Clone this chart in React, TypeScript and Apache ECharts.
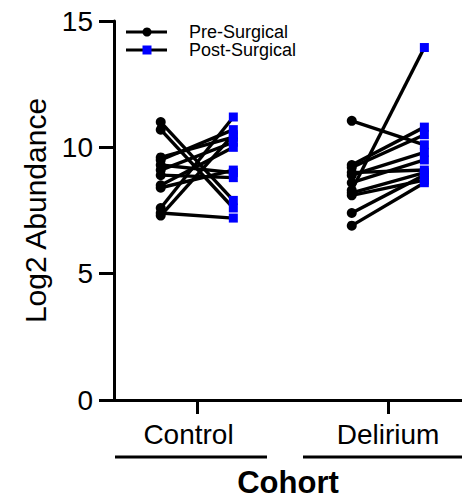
import React, { useEffect, useRef } from "react";
import * as echarts from "echarts";

const categories = ["Control", "Delirium"];
const legendNames = ["Pre-Surgical", "Post-Surgical"];
const controlPre = [11.0, 10.7, 9.6, 9.5, 9.3, 9.1, 8.9, 8.5, 8.4, 7.6, 7.4, 7.3];
const controlPost = [7.9, 7.6, 10.4, 10.7, 9.0, 10.2, 8.8, 10.0, 9.1, 11.2, 7.2, 10.5];
const deliriumPre = [11.05, 9.3, 9.2, 9.0, 8.9, 8.6, 8.3, 8.2, 8.1, 7.4, 6.9];
const deliriumPost = [10.1, 10.8, 10.5, 9.1, 9.8, 9.5, 13.95, 9.0, 8.7, 8.9, 8.6];
const yTicks = { min: 0, max: 15, interval: 5 };

const FONT = "'Liberation Sans', Arial, sans-serif";
const OFF = 0.19;

export default function App() {
  const ref = useRef<HTMLDivElement>(null);
  useEffect(() => {
    const chart = echarts.init(ref.current!, null, { renderer: "svg" });
    const groups = [
      { pre: controlPre, post: controlPost },
      { pre: deliriumPre, post: deliriumPost },
    ];
    const series: any[] = [];
    const prePts: number[][] = [];
    const postPts: number[][] = [];
    groups.forEach((g, gi) => {
      const cx = gi + 1;
      g.pre.forEach((v, j) => {
        const a = [cx - OFF, v];
        const b = [cx + OFF, g.post[j]];
        prePts.push(a);
        postPts.push(b);
        series.push({
          type: "line",
          data: [a, b],
          symbol: "none",
          silent: true,
          lineStyle: { color: "#000", width: 3.4 },
          z: 2,
        });
      });
    });
    series.push({
      name: legendNames[0],
      type: "scatter",
      data: prePts,
      symbol: "circle",
      symbolSize: 10,
      itemStyle: { color: "#000", opacity: 1 },
      z: 3,
    });
    series.push({
      name: legendNames[1],
      type: "scatter",
      data: postPts,
      symbol: "rect",
      symbolSize: 9,
      itemStyle: { color: "#0000FF", opacity: 1 },
      z: 4,
    });

    chart.setOption({
      animation: false,
      textStyle: { fontFamily: FONT },
      grid: { left: 114, right: 0, top: 21, bottom: 98, containLabel: false },
      xAxis: {
        type: "value",
        min: 0.5654,
        max: 2.387,
        name: "Cohort",
        nameLocation: "middle",
        nameGap: 67,
        nameTextStyle: { fontSize: 31, fontWeight: "bold", color: "#000", fontFamily: FONT },
        axisLine: { onZero: false, lineStyle: { color: "#000", width: 3 } },
        axisTick: { show: true, customValues: [1, 2], length: 14, lineStyle: { color: "#000", width: 3 } },
        axisLabel: {
          customValues: [1, 2],
          margin: 20,
          fontSize: 28,
          color: "#000",
          fontFamily: FONT,
          formatter: (v: number) => {
            const name = categories[Math.round(v) - 1];
            return Math.round(v) === 1 ? `{c|${name}}` : `{d|${name}}`;
          },
          rich: {
            c: { fontSize: 28, fontFamily: FONT, color: "#000", padding: [0, 17, 0, 0] },
            d: { fontSize: 28, fontFamily: FONT, color: "#000" },
          },
        },
        splitLine: { show: false },
      },
      yAxis: {
        type: "value",
        min: yTicks.min,
        max: yTicks.max,
        interval: yTicks.interval,
        name: "Log2 Abundance",
        nameLocation: "middle",
        nameGap: 64,
        nameTextStyle: { fontSize: 30, color: "#000", fontFamily: FONT },
        axisLine: { show: true, lineStyle: { color: "#000", width: 3 } },
        axisTick: { show: true, length: 15, lineStyle: { color: "#000", width: 3 } },
        axisLabel: { fontSize: 28, color: "#000", margin: 21, fontFamily: FONT },
        splitLine: { show: false },
      },
      graphic: [
        { type: "line", shape: { x1: 115, y1: 457, x2: 267, y2: 457 }, style: { stroke: "#000", lineWidth: 3 } },
        { type: "line", shape: { x1: 303, y1: 457, x2: 462, y2: 457 }, style: { stroke: "#000", lineWidth: 3 } },
        { type: "line", shape: { x1: 126, y1: 32, x2: 167, y2: 32 }, style: { stroke: "#000", lineWidth: 3 } },
        { type: "circle", shape: { cx: 147, cy: 32, r: 4.5 }, style: { fill: "#000" } },
        { type: "text", x: 189, y: 31.5, style: { text: legendNames[0], fontSize: 18, fontFamily: FONT, fill: "#000", verticalAlign: "middle" } },
        { type: "line", shape: { x1: 126, y1: 50, x2: 167, y2: 50 }, style: { stroke: "#000", lineWidth: 3 } },
        { type: "rect", shape: { x: 142.5, y: 45.5, width: 9, height: 9 }, style: { fill: "#0000FF" } },
        { type: "text", x: 189, y: 49.8, style: { text: legendNames[1], fontSize: 18, fontFamily: FONT, fill: "#000", verticalAlign: "middle" } },
      ],
      series,
    });
    return () => chart.dispose();
  }, []);
  return (
    <div
      ref={ref}
      style={{ position: "fixed", left: 0, top: 0, width: 462, height: 503, background: "#fff" }}
    />
  );
}
